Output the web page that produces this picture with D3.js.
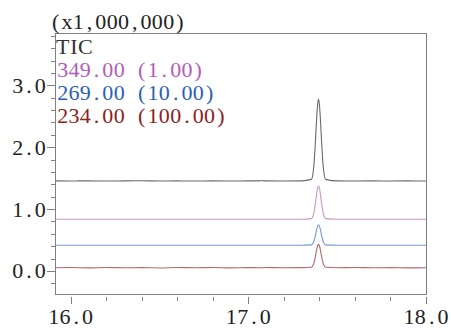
<!DOCTYPE html>
<html>
<head>
<meta charset="utf-8">
<script src="https://cdn.jsdelivr.net/npm/d3@7"></script>
<style>
  body { margin: 0; background: #fff; }
  text { font-family: "Liberation Serif", "DejaVu Serif", serif; }
</style>
</head>
<body>
<div id="chart"></div>
<script>
// retention time (min)
var times = [15.912, 16.0, 16.1, 16.2, 16.3, 16.4, 16.5, 16.6, 16.7, 16.8, 16.9, 17.0,
    17.06, 17.075, 17.09, 17.2, 17.3,
    17.355, 17.365, 17.37, 17.375, 17.38, 17.385, 17.39, 17.395, 17.40, 17.405, 17.41, 17.415, 17.42, 17.425, 17.435,
    17.5, 17.6, 17.7, 17.8, 17.9, 18.0];

// intensities as drawn (x1,000,000), traces stacked
var ticValues = [1.455, 1.454, 1.456, 1.453, 1.455, 1.457, 1.454, 1.455, 1.453, 1.456, 1.454, 1.455,
    1.456, 1.462, 1.455, 1.454, 1.456,
    1.48, 1.60, 1.74, 1.96, 2.22, 2.49, 2.69, 2.774, 2.69, 2.49, 2.22, 1.96, 1.74, 1.60, 1.48,
    1.455, 1.454, 1.455, 1.454, 1.455, 1.454];
var mz349Values = [0.835, 0.835, 0.835, 0.835, 0.835, 0.835, 0.835, 0.835, 0.835, 0.835, 0.835, 0.835,
    0.835, 0.835, 0.835, 0.835, 0.835,
    0.846, 0.896, 0.953, 1.039, 1.147, 1.258, 1.341, 1.373, 1.341, 1.258, 1.147, 1.039, 0.953, 0.896, 0.846,
    0.835, 0.835, 0.835, 0.835, 0.835, 0.835];
var mz269Values = [0.415, 0.415, 0.415, 0.415, 0.415, 0.415, 0.415, 0.415, 0.415, 0.415, 0.415, 0.415,
    0.415, 0.415, 0.415, 0.415, 0.415,
    0.422, 0.453, 0.488, 0.542, 0.608, 0.677, 0.728, 0.748, 0.728, 0.677, 0.608, 0.542, 0.488, 0.453, 0.422,
    0.415, 0.415, 0.415, 0.415, 0.415, 0.415];
var mz234Values = [0.052, 0.055, 0.050, 0.056, 0.051, 0.054, 0.049, 0.055, 0.052, 0.056, 0.050, 0.054,
    0.053, 0.051, 0.055, 0.052, 0.054,
    0.061, 0.096, 0.136, 0.196, 0.272, 0.349, 0.407, 0.43, 0.407, 0.349, 0.272, 0.196, 0.136, 0.096, 0.061,
    0.053, 0.056, 0.051, 0.054, 0.050, 0.053];

var legendLabels = ["TIC", "349.00 (1.00)", "269.00 (10.00)", "234.00 (100.00)"];
var legendColors = ["#333333", "#b45cb8", "#2c5fb4", "#8c2222"];
var lineColors = ["#6a6a6a", "#c898c8", "#7898d4", "#b46a6a"];
var xMajor = [16.0, 17.0, 18.0];
var yMajor = [0, 1, 2, 3];

var width = 451, height = 328;
var plot = { left: 55, right: 426, top: 33, bottom: 294 };
var cell = 11.3;   // 每个字符的宽度（等宽排版）

var svg = d3.select("#chart").append("svg")
    .attr("width", width)
    .attr("height", height);

var x = d3.scaleLinear().domain([15.912, 18.0]).range([plot.left, plot.right]);
var y = d3.scaleLinear().domain([-0.372, 3.845]).range([plot.bottom, plot.top]);

// 等宽文字：每个字符放在固定宽度的格子里
function monoText(g, str, x0, yy, color, anchor) {
    var chars = str.split("");
    var start = x0;
    if (anchor === "end") start = x0 - chars.length * cell;
    if (anchor === "middle") start = x0 - chars.length * cell / 2;
    var t = g.append("text")
        .attr("y", yy)
        .attr("font-size", 22)
        .attr("fill", color);
    t.selectAll("tspan")
        .data(chars)
        .enter().append("tspan")
        .attr("x", function (d, i) { return start + (i + 0.5) * cell; })
        .attr("text-anchor", "middle")
        .text(function (d) { return d; });
    return t;
}

// 坐标轴刻度
var yMinor = d3.range(-0.2, 3.81, 0.2).map(function (d) { return Math.round(d * 10) / 10; });
svg.append("g").selectAll("line")
    .data(yMinor)
    .enter().append("line")
    .attr("x1", function (d) { return yMajor.indexOf(d) >= 0 ? plot.left - 8 : plot.left - 4; })
    .attr("x2", plot.left)
    .attr("y1", function (d) { return Math.round(y(d)) + 0.5; })
    .attr("y2", function (d) { return Math.round(y(d)) + 0.5; })
    .attr("stroke", "#808080");

var yLabels = svg.append("g");
yMajor.forEach(function (d) {
    monoText(yLabels, d.toFixed(1), plot.left - 9, y(d) + 7.5, "#222", "end");
});

var xMinor = d3.range(16.0, 18.01, 0.2).map(function (d) { return Math.round(d * 10) / 10; });
svg.append("g").selectAll("line")
    .data(xMinor)
    .enter().append("line")
    .attr("x1", function (d) { return Math.round(x(d)) + 0.5; })
    .attr("x2", function (d) { return Math.round(x(d)) + 0.5; })
    .attr("y1", plot.bottom + 3)
    .attr("y2", function (d) { return xMajor.indexOf(d) >= 0 ? plot.bottom + 10 : plot.bottom + 7; })
    .attr("stroke", "#808080");

var xLabels = svg.append("g");
xMajor.forEach(function (d) {
    monoText(xLabels, d.toFixed(1), x(d), 324, "#222", "middle");
});

// 曲线
var series = [ticValues, mz349Values, mz269Values, mz234Values];
var line = d3.line()
    .x(function (d, i) { return x(times[i]); })
    .y(function (d) { return y(d); })
    .curve(d3.curveMonotoneX);

svg.append("g").selectAll("path")
    .data(series)
    .enter().append("path")
    .attr("fill", "none")
    .attr("stroke", function (d, i) { return lineColors[i]; })
    .attr("stroke-width", 1.1)
    .attr("d", line);

// 边框
svg.append("rect")
    .attr("x", plot.left + 0.5)
    .attr("y", plot.top + 0.5)
    .attr("width", plot.right - plot.left)
    .attr("height", plot.bottom - plot.top)
    .attr("fill", "none")
    .attr("stroke", "#808080");

// 图例和单位
var labels = svg.append("g");
monoText(labels, "(x1,000,000)", 50, 29, "#222", "start");
legendLabels.forEach(function (d, i) {
    monoText(labels, d, 57, 54 + i * 23, legendColors[i], "start");
});
</script>
</body>
</html>
